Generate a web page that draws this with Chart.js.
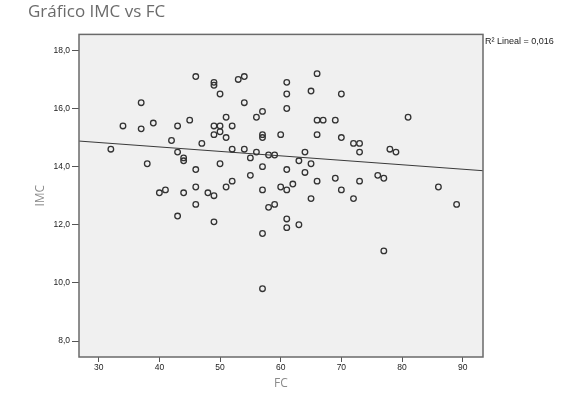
<!DOCTYPE html>
<html lang="es">
<head>
<meta charset="UTF-8">
<title>Gráfico IMC vs FC</title>
<script src="https://cdn.jsdelivr.net/npm/chart.js"></script>
<style>
  html, body { margin: 0; padding: 0; background: #fff; }
  #wrap { width: 575px; height: 395px; }
</style>
</head>
<body>
<div id="wrap"><canvas id="chart" width="575" height="395"></canvas></div>
<script>
// FC (x) and IMC (y) for each patient
const fc = [32, 34, 37, 37, 38, 39, 40, 41, 42, 43, 43, 43, 44, 44, 44, 45, 46, 46, 46, 46,
            47, 48, 49, 49, 49, 49, 49, 49, 50, 50, 50, 50, 51, 51, 51, 52, 52, 52, 53, 54,
            54, 54, 55, 55, 56, 56, 57, 57, 57, 57, 57, 57, 57, 58, 58, 59, 59, 60, 60, 61,
            61, 61, 61, 61, 61, 61, 62, 63, 63, 64, 64, 65, 65, 65, 66, 66, 66, 66, 67, 69,
            69, 70, 70, 70, 72, 72, 73, 73, 73, 76, 77, 77, 78, 79, 81, 86, 89];
const imc = [14.6, 15.4, 16.2, 15.3, 14.1, 15.5, 13.1, 13.2, 14.9, 15.4, 14.5, 12.3, 14.3, 14.2, 13.1, 15.6, 17.1, 13.9, 13.3, 12.7,
             14.8, 13.1, 16.9, 16.8, 15.4, 15.1, 13.0, 12.1, 16.5, 15.4, 15.2, 14.1, 15.7, 15.0, 13.3, 15.4, 14.6, 13.5, 17.0, 17.1,
             16.2, 14.6, 14.3, 13.7, 15.7, 14.5, 15.9, 15.1, 15.0, 14.0, 13.2, 11.7, 9.8, 14.4, 12.6, 14.4, 12.7, 15.1, 13.3, 16.9,
             16.5, 16.0, 13.9, 13.2, 12.2, 11.9, 13.4, 14.2, 12.0, 14.5, 13.8, 16.6, 14.1, 12.9, 17.2, 15.6, 15.1, 13.5, 15.6, 15.6,
             13.6, 16.5, 15.0, 13.2, 14.8, 12.9, 14.8, 14.5, 13.5, 13.7, 13.6, 11.1, 14.6, 14.5, 15.7, 13.3, 12.7];

// linear fit line, ends read at the plot edges
const fitX = [26.75, 93.35];
const fitY = [14.88, 13.86];
const r2Label = 'R\u00b2 Lineal = 0,016';

const xTicks = [30, 40, 50, 60, 70, 80, 90];
const yTicks = [8, 10, 12, 14, 16, 18];

const points = fc.map((v, i) => ({ x: v, y: imc[i] }));
const fitPoints = fitX.map((v, i) => ({ x: v, y: fitY[i] }));

// plot background, frame and the R2 note
const framePlugin = {
    id: 'frame',
    beforeDatasetsDraw(chart) {
        const a = chart.chartArea, ctx = chart.ctx;
        ctx.save();
        ctx.fillStyle = '#f0f0f0';
        ctx.fillRect(a.left, a.top, a.right - a.left, a.bottom - a.top);
        ctx.restore();
    },
    afterDraw(chart) {
        const a = chart.chartArea, ctx = chart.ctx;
        ctx.save();
        ctx.strokeStyle = '#6a6a6a';
        ctx.lineWidth = 1.5;
        ctx.strokeRect(a.left, a.top, a.right - a.left, a.bottom - a.top);
        ctx.fillStyle = '#222';
        ctx.font = '9px "Liberation Sans", Arial, sans-serif';
        ctx.textBaseline = 'middle';
        ctx.fillText(r2Label, a.right + 2, a.top + 7);
        ctx.restore();
    }
};

new Chart(document.getElementById('chart'), {
    type: 'scatter',
    data: {
        datasets: [{
            data: points,
            pointRadius: 2.8,
            pointHoverRadius: 2.8,
            pointBorderWidth: 1.3,
            pointBorderColor: '#333',
            pointBackgroundColor: 'rgba(0,0,0,0)'
        }, {
            type: 'line',
            data: fitPoints,
            borderColor: '#3a3a3a',
            borderWidth: 1,
            pointRadius: 0,
            fill: false
        }]
    },
    options: {
        responsive: false,
        animation: false,
        layout: { padding: { left: 28, right: 92, top: 0, bottom: 0 } },
        plugins: {
            legend: { display: false },
            tooltip: { enabled: false },
            title: {
                display: true,
                text: 'Gráfico IMC vs FC',
                align: 'start',
                color: '#6b6b6b',
                font: { family: '"Open Sans", sans-serif', size: 17, weight: 'normal' },
                padding: { top: 2, bottom: 12 }
            }
        },
        scales: {
            x: {
                type: 'linear',
                min: 26.75,
                max: 93.35,
                afterBuildTicks: s => { s.ticks = xTicks.map(v => ({ value: v })); },
                afterFit: s => { s.height = 38; },
                grid: { display: true, drawOnChartArea: false, drawTicks: true, tickLength: 5, color: '#555' },
                border: { display: false },
                ticks: {
                    padding: 1,
                    color: '#222',
                    font: { family: '"Liberation Sans", Arial, sans-serif', size: 8.5 }
                },
                title: {
                    display: true,
                    text: 'FC',
                    color: '#8a8a8a',
                    font: { family: '"Open Sans", sans-serif', size: 12 },
                    padding: { top: 0, bottom: 4 }
                }
            },
            y: {
                type: 'linear',
                min: 7.45,
                max: 18.55,
                afterBuildTicks: s => { s.ticks = yTicks.map(v => ({ value: v })); },
                afterFit: s => { s.width = 51; },
                grid: { display: true, drawOnChartArea: false, drawTicks: true, tickLength: 7, color: '#555' },
                border: { display: false },
                ticks: {
                    padding: 2,
                    color: '#222',
                    font: { family: '"Liberation Sans", Arial, sans-serif', size: 8.5 },
                    callback: v => v.toFixed(1).replace('.', ',')
                },
                title: {
                    display: true,
                    text: 'IMC',
                    color: '#8a8a8a',
                    font: { family: '"Open Sans", sans-serif', size: 12 },
                    padding: { top: 5, bottom: 0 }
                }
            }
        }
    },
    plugins: [framePlugin]
});
</script>
</body>
</html>
